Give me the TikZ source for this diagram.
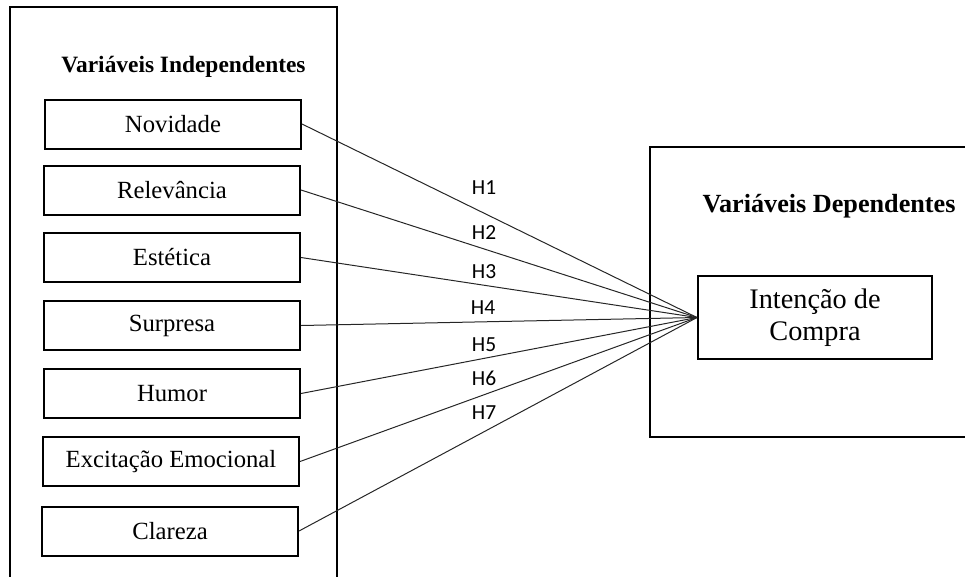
\documentclass[tikz,border=0pt]{standalone}
\usepackage{fontspec}
\setmainfont{Liberation Serif}
\newfontfamily\hfont{Carlito}
\begin{document}
\begin{tikzpicture}[x=1pt,y=-1pt,
  bigbox/.style={draw=black,line width=2pt,inner sep=0pt},
  varbox/.style={draw=black,line width=2pt,minimum width=256pt,minimum height=49pt,inner sep=0pt,font=\fontsize{24.7}{29}\selectfont},
  link/.style={draw=black!85,line width=1pt},
  hlab/.style={inner sep=0pt,font=\hfont\fontsize{21.5}{24}\selectfont},
  ttl/.style={inner sep=0pt,anchor=base,font=\bfseries}
]
\path[use as bounding box,clip] (0,0) rectangle (965,576);
% outer boxes
\node[bigbox,minimum width=327pt,minimum height=600pt] (indep) at (173.5,307) {};
\node[bigbox,minimum width=330pt,minimum height=290pt] (dep) at (815,292) {};
% titles
\node[ttl,font=\bfseries\fontsize{23.4}{26}\selectfont] (tl) at (183.5,72) {Variáveis Independentes};
\node[ttl,font=\bfseries\fontsize{26.2}{28}\selectfont] (tr) at (829,212) {Variáveis Dependentes};
% independent variables
\node[varbox] (nov) at (173,124) {Novidade};
\node[varbox] (rel) at (172,190) {Relevância};
\node[varbox] (est) at (172,257.5) {Estética};
\node[varbox] (sur) at (172,325.5) {Surpresa};
\node[varbox] (hum) at (172,393.5) {Humor};
\node[varbox] (exc) at (171,461.5) {Excitação Emocional};
\node[varbox] (cla) at (170,531) {Clareza};
% dependent variable
\node[draw=black,line width=2pt,minimum width=234pt,minimum height=83pt,inner sep=0pt,align=center,
  font=\fontsize{28.3}{31.5}\selectfont] (int) at (815,317.5) {Intenção de\\Compra};
% connectors
\foreach \s in {nov,rel,est,sur,hum,exc,cla}{\draw[link] (\s.east) -- (int.west);}
% labels
\node[hlab] (h1) at (484,188) {H1};
\node[hlab] (h2) at (484,233) {H2};
\node[hlab] (h3) at (484,272) {H3};
\node[hlab] (h4) at (483,308) {H4};
\node[hlab] (h5) at (484,345) {H5};
\node[hlab] (h6) at (484,378) {H6};
\node[hlab] (h7) at (484,413) {H7};
\end{tikzpicture}
\end{document}
